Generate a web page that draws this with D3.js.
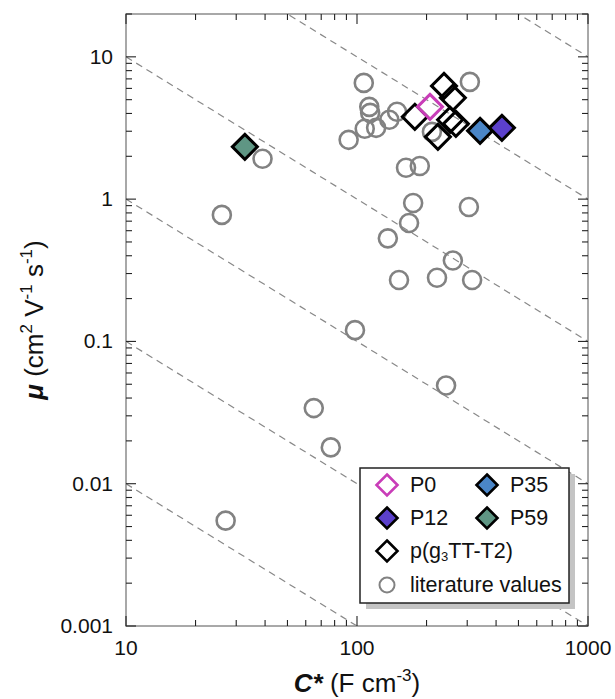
<!DOCTYPE html>
<html><head><meta charset="utf-8">
<script src="https://cdn.jsdelivr.net/npm/d3@7/dist/d3.min.js"></script>
<style>body{margin:0;background:#fff}svg{display:block;font-family:"Liberation Sans",Arial,sans-serif}</style>
</head><body><svg id="c" width="615" height="699"></svg>
<script>
// literature values [C*, mu]
const litC  = [107,308,113,114,149,138,121,108,92,211,163,187,175,305,168,136,260,152,222,315,39,26,98,243,65,77,27];
const litMu = [6.56,6.67,4.45,4.04,4.11,3.61,3.17,3.12,2.61,2.97,1.66,1.71,0.94,0.88,0.68,0.53,0.37,0.27,0.28,0.27,1.92,0.775,0.12,0.049,0.034,0.018,0.0055];
// p(g3TT-T2)
const gttC  = [238,260,178,253,268,224];
const gttMu = [6.25,5.15,3.79,3.61,3.38,2.74];
const series = [
  {name:"P0",  C:207, mu:4.45, fill:"none",    stroke:"#c93db8"},
  {name:"P35", C:341, mu:3.02, fill:"#4a86c8", stroke:"#000"},
  {name:"P12", C:424, mu:3.17, fill:"#5b40cc", stroke:"#000"},
  {name:"P59", C:32.7,mu:2.33, fill:"#5f9684", stroke:"#000"}
];
const isoLines = [-1,0,1,2,3,4]; // log10(mu*C*)
const xTicks = [10,100,1000];
const yTicks = [0.001,0.01,0.1,1,10];
const yTickLabels = ["0.001","0.01","0.1","1","10"];

const L=126,R=588,T=14,B=626;
const svg=d3.select("#c");
const x=d3.scaleLog().domain([10,1000]).range([L,R]);
const y=d3.scaleLog().domain([0.001,20]).range([B,T]);

svg.append("clipPath").attr("id","clip").append("rect").attr("x",L).attr("y",T).attr("width",R-L).attr("height",B-T);

// iso lines
const gl=svg.append("g").attr("clip-path","url(#clip)");
isoLines.forEach(k=>{
  const v=Math.pow(10,k);
  gl.append("line").attr("x1",x(10)).attr("y1",y(v/10)).attr("x2",x(1000)).attr("y2",y(v/1000))
    .attr("stroke","#888").attr("stroke-width",1.2).attr("stroke-dasharray","7,5");
});

// frame
svg.append("rect").attr("x",L).attr("y",T).attr("width",R-L).attr("height",B-T)
  .attr("fill","none").attr("stroke","#8c8c8c").attr("stroke-width",1.5);

// ticks
function minorVals(dom){const out=[];for(let e=Math.floor(Math.log10(dom[0]));e<=Math.ceil(Math.log10(dom[1]));e++){for(let m=1;m<10;m++){const v=m*Math.pow(10,e);if(v>=dom[0]*0.9999&&v<=dom[1]*1.0001)out.push({v,major:m===1});}}return out;}
const tk=svg.append("g").attr("stroke","#222").attr("stroke-width",1.1);
minorVals(x.domain()).forEach(t=>{
  const len=t.major?10:6, px=x(t.v);
  tk.append("line").attr("x1",px).attr("x2",px).attr("y1",B).attr("y2",B-len);
  tk.append("line").attr("x1",px).attr("x2",px).attr("y1",T).attr("y2",T+len);
});
minorVals(y.domain()).forEach(t=>{
  const len=t.major?10:6, py=y(t.v);
  tk.append("line").attr("y1",py).attr("y2",py).attr("x1",L).attr("x2",L+len);
  tk.append("line").attr("y1",py).attr("y2",py).attr("x1",R).attr("x2",R-len);
});
xTicks.forEach(v=>svg.append("text").attr("x",x(v)).attr("y",655).attr("text-anchor","middle")
  .attr("font-size",21).attr("fill","#111").text(d3.format("d")(v)));
yTicks.forEach((v,i)=>svg.append("text").attr("x",113).attr("y",y(v)+7).attr("text-anchor","end")
  .attr("font-size",21).attr("fill","#111").text(yTickLabels[i]));

// axis titles
const xt=svg.append("text").attr("x",357).attr("y",692).attr("text-anchor","middle").attr("font-size",26).attr("fill","#111");
xt.append("tspan").attr("font-weight","bold").attr("font-style","italic").text("C*");
xt.append("tspan").text(" (F cm");
xt.append("tspan").attr("font-size",17).attr("dy",-11).text("-3");
xt.append("tspan").attr("dy",11).text(")");
const yt=svg.append("text").attr("transform","translate(43,320) rotate(-90)").attr("text-anchor","middle").attr("font-size",26).attr("fill","#111");
yt.append("tspan").attr("font-weight","bold").attr("font-style","italic").text("μ");
yt.append("tspan").text(" (cm");
yt.append("tspan").attr("font-size",17).attr("dy",-11).text("2");
yt.append("tspan").attr("dy",11).text(" V");
yt.append("tspan").attr("font-size",17).attr("dy",-11).text("-1");
yt.append("tspan").attr("dy",11).text(" s");
yt.append("tspan").attr("font-size",17).attr("dy",-11).text("-1");
yt.append("tspan").attr("dy",11).text(")");

// points
const diamond=(s)=>`M0,${-s}L${s},0L0,${s}L${-s},0Z`;
const gp=svg.append("g");
litC.forEach((c,i)=>gp.append("circle").attr("cx",x(c)).attr("cy",y(litMu[i])).attr("r",9)
  .attr("fill","none").attr("stroke","#828282").attr("stroke-width",2.6));
gttC.forEach((c,i)=>gp.append("path").attr("d",diamond(12.5)).attr("transform",`translate(${x(c)},${y(gttMu[i])})`)
  .attr("fill","none").attr("stroke","#000").attr("stroke-width",3));
series.forEach(s=>gp.append("path").attr("d",diamond(12.5)).attr("transform",`translate(${x(s.C)},${y(s.mu)})`)
  .attr("fill",s.fill).attr("stroke",s.stroke).attr("stroke-width",3));

// legend
const lg=svg.append("g");
lg.append("rect").attr("x",366).attr("y",474).attr("width",209).attr("height",135).attr("fill","#c4c4c4");
lg.append("rect").attr("x",360).attr("y",468).attr("width",209).attr("height",135).attr("fill","#fff").attr("stroke","#222").attr("stroke-width",1.5);
const rowY=[485,518,551,585];
const items=[
  {c:387,r:0,s:series[0]},{c:487,r:0,s:series[1]},
  {c:387,r:1,s:series[2]},{c:487,r:1,s:series[3]}
];
items.forEach(it=>{
  lg.append("path").attr("d",diamond(10.5)).attr("transform",`translate(${it.c},${rowY[it.r]})`)
    .attr("fill",it.s.fill==="none"?"#fff":it.s.fill).attr("stroke",it.s.stroke).attr("stroke-width",2.6);
  lg.append("text").attr("x",it.c+23).attr("y",rowY[it.r]+7).attr("font-size",21.5).attr("fill","#111").text(it.s.name);
});
lg.append("path").attr("d",diamond(10.5)).attr("transform",`translate(387,${rowY[2]})`).attr("fill","#fff").attr("stroke","#000").attr("stroke-width",2.6);
const t3=lg.append("text").attr("x",410).attr("y",rowY[2]+7).attr("font-size",21.5).attr("fill","#111");
t3.append("tspan").text("p(g");
t3.append("tspan").attr("font-size",13).attr("dy",3).text("3");
t3.append("tspan").attr("dy",-3).text("TT-T2)");
lg.append("circle").attr("cx",387).attr("cy",rowY[3]).attr("r",7.5).attr("fill","none").attr("stroke","#828282").attr("stroke-width",2);
lg.append("text").attr("x",410).attr("y",rowY[3]+7).attr("font-size",21.5).attr("fill","#111").text("literature values");
</script></body></html>
